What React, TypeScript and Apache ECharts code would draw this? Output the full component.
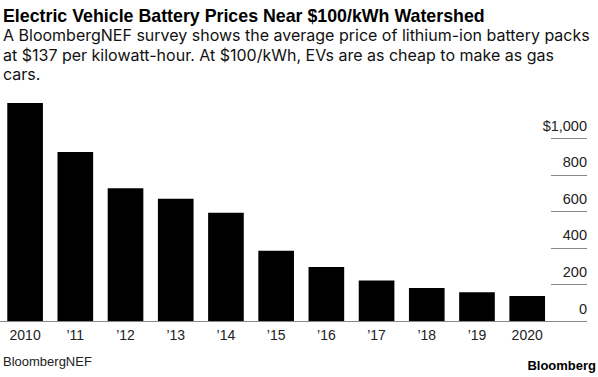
import React, { useEffect, useRef } from "react";
import * as echarts from "echarts";

const years = ["2010", "’11", "’12", "’13", "’14", "’15", "’16", "’17", "’18", "’19", "2020"];
const prices = [1191, 924, 726, 668, 592, 384, 295, 221, 181, 157, 137];
const yTicks = [0, 200, 400, 600, 800, 1000];

const titleText = "Electric Vehicle Battery Prices Near $100/kWh Watershed";
const subtitleLines = [
  "A BloombergNEF survey shows the average price of lithium-ion battery packs",
  "at $137 per kilowatt-hour. At $100/kWh, EVs are as cheap to make as gas",
  "cars.",
];
const sourceText = "BloombergNEF";
const brandText = "Bloomberg";

export default function App() {
  const ref = useRef<HTMLDivElement>(null);
  useEffect(() => {
    if (!ref.current) return;
    const chart = echarts.init(ref.current, null, { renderer: "svg" });
    const font = "'Liberation Sans', Arial, Helvetica, sans-serif";
    chart.setOption({
      animation: false,
      backgroundColor: "#fff",
      textStyle: { fontFamily: font },
      title: [
        {
          text: titleText,
          left: 3,
          top: 6,
          padding: 0,
          textStyle: { fontSize: 17.8, fontWeight: "bold", color: "#000", fontFamily: font, lineHeight: 20 },
        },
        {
          text: subtitleLines.join("\n"),
          left: 3,
          top: 25.5,
          padding: 0,
          textStyle: { fontSize: 16, fontWeight: "normal", color: "#111", fontFamily: "Inter, " + font, lineHeight: 19.5 },
        },
        {
          text: sourceText,
          left: 3,
          top: 353,
          padding: 0,
          textStyle: { fontSize: 13, fontWeight: "normal", color: "#222", fontFamily: font, lineHeight: 16 },
        },
        {
          text: brandText,
          right: 2,
          top: 357.5,
          padding: 0,
          textStyle: { fontSize: 13, fontWeight: "bold", color: "#000", fontFamily: font, lineHeight: 16 },
        },
      ],
      grid: [
        { left: -5, right: 45.7, top: 101.4, bottom: 56 },
        { left: 551, right: 11, top: 138.25, bottom: 56 },
      ],
      xAxis: [
        {
          gridIndex: 0,
          type: "category",
          data: years,
          axisLine: { show: true, lineStyle: { color: "#888", width: 1 } },
          axisTick: { show: false },
          axisLabel: { fontSize: 14, color: "#222", margin: 7, fontFamily: font },
        },
        { gridIndex: 1, type: "value", show: false },
      ],
      yAxis: [
        { gridIndex: 0, type: "value", min: 0, max: 1200, show: false },
        {
          gridIndex: 1,
          type: "value",
          min: yTicks[0],
          max: yTicks[yTicks.length - 1],
          interval: 200,
          position: "right",
          axisLine: { show: false },
          axisTick: { show: false },
          splitLine: { show: true, lineStyle: { color: "#888", width: 1 } },
          axisLabel: {
            inside: true,
            margin: 0,
            verticalAlign: "bottom",
            padding: [0, 0, 5, 0],
            fontSize: 14.5,
            color: "#222",
            fontFamily: font,
            formatter: (v: number) => (v === 1000 ? "$1,000" : String(v)),
          },
        },
      ],
      series: [
        {
          type: "bar",
          xAxisIndex: 0,
          yAxisIndex: 0,
          data: prices,
          barCategoryGap: "29%",
          itemStyle: { color: "#000" },
        },
      ],
    });
    return () => chart.dispose();
  }, []);
  return (
    <div
      ref={ref}
      style={{ position: "absolute", left: 0, top: 0, width: 598, height: 377 }}
    />
  );
}
